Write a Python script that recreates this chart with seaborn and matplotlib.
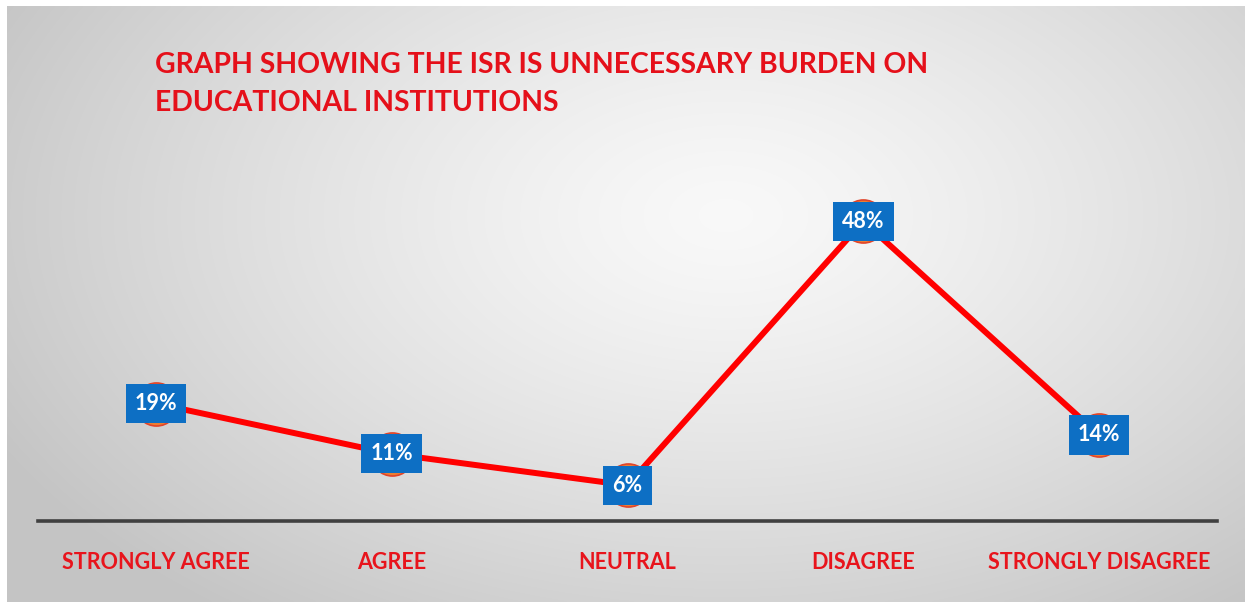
import numpy as np
import pandas as pd
import matplotlib
matplotlib.use("Agg")
import matplotlib.pyplot as plt
import seaborn as sns

categories = ["STRONGLY AGREE", "AGREE", "NEUTRAL", "DISAGREE", "STRONGLY DISAGREE"]
values = [19, 11, 6, 48, 14]
value_labels = ["19%", "11%", "6%", "48%", "14%"]
title_lines = ["GRAPH SHOWING THE ISR IS UNNECESSARY BURDEN ON", "EDUCATIONAL INSTITUTIONS"]

sns.set_theme(style="white")
plt.rcParams['font.family'] = ['Lato', 'DejaVu Sans']
plt.rcParams['font.weight'] = 'bold'

W, H = 1245, 605
fig = plt.figure(figsize=(W / 100, H / 100), dpi=100)
fig.patch.set_facecolor("white")

# background gradient panel
bg = fig.add_axes([7 / W, 3 / H, 1 - 7 / W, 1 - 9 / H])
ny, nx = 300, 600
yy, xx = np.mgrid[0:ny, 0:nx]
cx, cy = 0.58 * nx, 0.35 * ny
d = np.sqrt(((xx - cx) / (0.75 * nx)) ** 2 + ((yy - cy) / (0.95 * ny)) ** 2)
g = np.clip(0.975 - 0.24 * d ** 1.3, 0.77, 1.0)
img = np.dstack([g, g, g])
bg.imshow(img, aspect="auto", interpolation="bilinear")
bg.set_axis_off()

# main axes
y0_px, ytop_px = 523, 30
left, right = 38 / W, 1217 / W
bottom = (H - y0_px) / H
top = (H - ytop_px) / H
ax = fig.add_axes([left, bottom, right - left, top - bottom])
ax.patch.set_alpha(0)

df = pd.DataFrame({"cat": categories, "val": values, "x": range(len(categories))})
sns.lineplot(data=df, x="x", y="val", ax=ax, color="#FF0000", linewidth=4.3,
             marker="o", markersize=31, markerfacecolor="#ED7D31",
             markeredgecolor="#E0442A", markeredgewidth=1.2, zorder=3)

for i, (v, lab) in enumerate(zip(values, value_labels)):
    ax.text(i, v, lab, ha="center", va="center", color="white", fontsize=15.5,
            fontweight="bold", zorder=5,
            bbox=dict(boxstyle="square,pad=0.42", facecolor="#0D6FC4", edgecolor="none"))

ppu = 6.286
ax.set_xlim(-0.5, len(categories) - 0.5)
ax.set_ylim(0, (y0_px - ytop_px) / ppu)
ax.set_xticks(range(len(categories)), categories)
ax.tick_params(axis="x", length=0, pad=22, labelcolor="#E8141C", labelsize=15.5)
ax.set_yticks([])
ax.set_xlabel("")
ax.set_ylabel("")
for s in ["top", "right", "left"]:
    ax.spines[s].set_visible(False)
ax.spines["bottom"].set_color("#404040")
ax.spines["bottom"].set_linewidth(2.6)
ax.spines["bottom"].set_position(("data", 0.3))

fig.text(155 / W, 1 - 65 / H, title_lines[0], ha="left", va="center",
         color="#E5101A", fontsize=20.4, fontweight="bold")
fig.text(155 / W, 1 - 103 / H, title_lines[1], ha="left", va="center",
         color="#E5101A", fontsize=20.4, fontweight="bold")

fig.savefig("out.png", dpi=100)
